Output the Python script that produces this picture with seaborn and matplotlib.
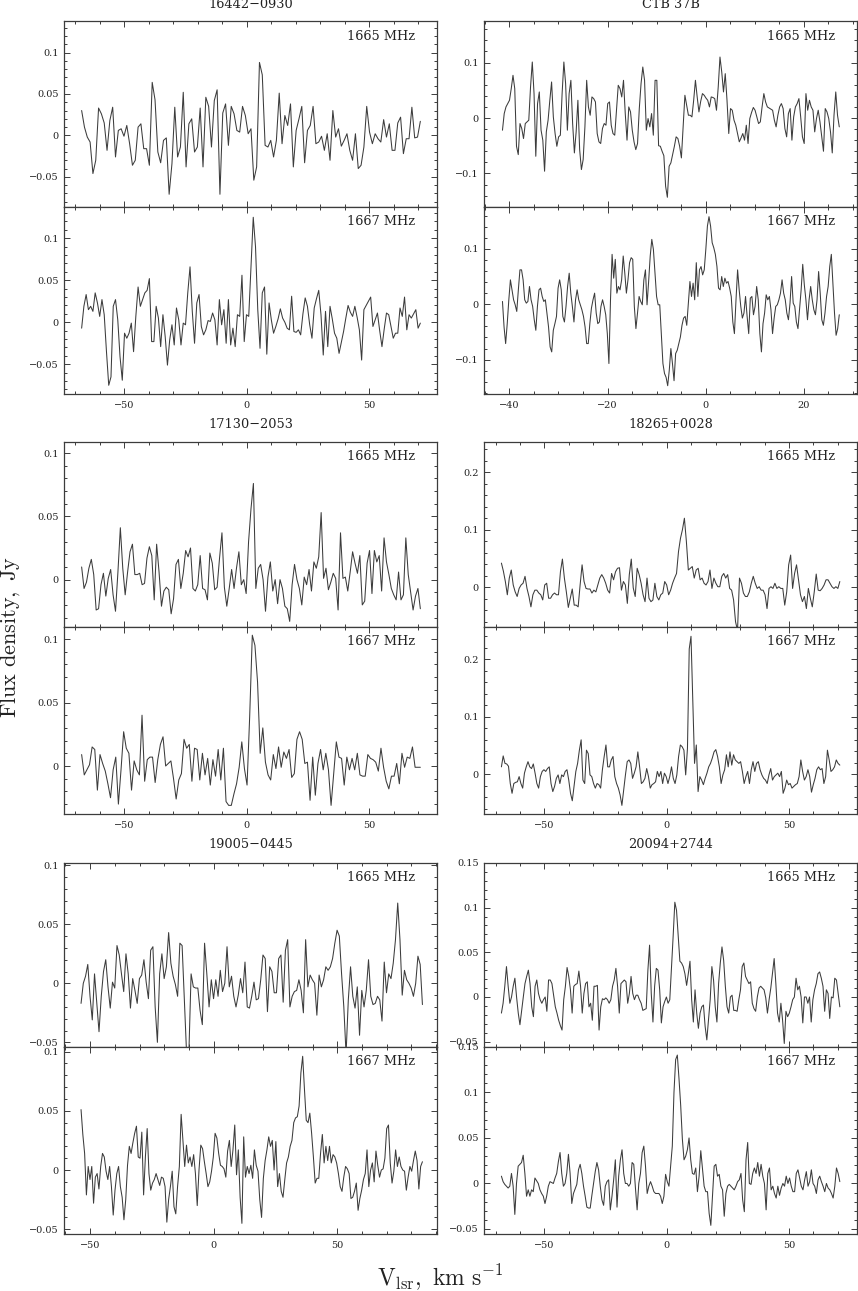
import numpy as np
import matplotlib
matplotlib.use("Agg")
import matplotlib.pyplot as plt
import seaborn as sns
from matplotlib.ticker import MultipleLocator, FuncFormatter

sns.set_style("ticks")
plt.rcParams["font.family"] = ["DejaVu Serif"]
plt.rcParams["mathtext.fontset"] = "cm"

# source names (titles) and frequency labels
sources = ["16442\u22120930", "CTB 37B", "17130\u22122053",
           "18265+0028", "19005\u22120445", "20094+2744"]
freqs = ["1665 MHz", "1667 MHz"]

# velocity range covered by each spectrum (first and last channel, km/s)
vrange_16442 = (-67.4, 70.9)
vrange_ctb37b = (-41.4, 27.2)
vrange_17130 = (-67.4, 70.9)
vrange_18265 = (-67.6, 70.8)
vrange_19005 = (-53.7, 84.5)
vrange_20094 = (-67.6, 70.8)

# flux density, Jy
f1665_16442 = [0.030, 0.010, -0.002, -0.008, -0.046, -0.030, 0.033, 0.026, 0.015, -0.018,
               0.018, 0.034, -0.026, 0.006, 0.008, -0.001, 0.012, -0.010, -0.036, -0.030,
               0.010, 0.014, -0.016, -0.016, -0.036, 0.064, 0.043, -0.020, -0.033, -0.006,
               -0.003, -0.071, -0.034, 0.034, -0.026, -0.014, 0.052, -0.038, 0.014, 0.020,
               -0.020, -0.014, 0.033, -0.038, 0.046, 0.035, -0.014, 0.042, 0.055, -0.071,
               0.027, 0.038, -0.012, 0.035, 0.026, 0.006, 0.004, 0.035, 0.024, 0.002,
               0.008, -0.054, -0.038, 0.088, 0.073, -0.012, -0.014, -0.006, -0.026, -0.006,
               0.051, -0.010, 0.024, 0.012, 0.038, -0.038, 0.006, 0.020, 0.035, -0.033,
               0.006, 0.012, 0.035, -0.010, -0.008, -0.001, -0.018, 0.002, -0.030, 0.030,
               -0.002, 0.008, -0.013, -0.006, 0.002, -0.018, -0.030, 0.002, -0.040, -0.036,
               -0.014, 0.035, 0.004, -0.010, 0.002, -0.004, -0.008, 0.019, -0.002, 0.014,
               -0.018, -0.018, 0.015, 0.022, -0.022, -0.004, -0.004, 0.034, -0.003, -0.002,
               0.017]
f1667_16442 = [-0.007, 0.019, 0.033, 0.015, 0.019, 0.013, 0.035, 0.023, 0.007, 0.027,
               0.009, -0.035, -0.075, -0.065, 0.019, 0.027, 0.003, -0.041, -0.069, -0.013,
               -0.019, -0.013, -0.001, -0.035, 0.007, 0.042, 0.019, 0.027, 0.035, 0.038,
               0.052, -0.023, -0.023, 0.019, 0.005, -0.029, 0.009, -0.017, -0.051, -0.021,
               -0.003, -0.027, 0.017, 0.003, -0.027, -0.001, -0.003, 0.035, 0.066, 0.013,
               -0.025, 0.023, 0.033, -0.005, -0.015, -0.009, 0.002, 0.001, 0.011, 0.003,
               -0.027, 0.027, -0.003, 0.015, -0.025, 0.027, -0.027, -0.007, -0.029, 0.009,
               0.007, 0.056, -0.023, 0.009, 0.007, 0.066, 0.125, 0.090, 0.015, -0.031,
               0.035, 0.042, -0.038, 0.023, 0.003, -0.013, -0.005, 0.004, 0.016, 0.005,
               0.000, -0.007, -0.009, 0.031, -0.011, -0.012, -0.009, -0.015, 0.010, 0.029,
               0.019, -0.003, -0.019, 0.017, 0.028, 0.038, 0.009, -0.039, 0.013, -0.029,
               0.019, 0.004, -0.013, -0.019, -0.037, -0.024, -0.011, 0.005, 0.020, 0.012,
               0.007, 0.019, 0.006, -0.009, -0.045, 0.015, 0.020, 0.025, 0.030, -0.005,
               0.003, 0.011, -0.010, -0.029, -0.008, 0.011, 0.009, -0.005, -0.019, -0.013,
               -0.013, 0.017, 0.007, 0.030, -0.009, 0.009, 0.005, 0.010, 0.015, -0.007,
               -0.001]

f1665_ctb37b = [-0.022, 0.008, 0.020, 0.026, 0.032, 0.053, 0.077, 0.053, -0.051, -0.066,
                -0.010, -0.019, -0.037, -0.010, -0.007, -0.004, 0.056, 0.101, 0.044,
                -0.069, 0.026, 0.047, -0.022, -0.040, -0.096, -0.025, -0.004, 0.032, 0.065,
                0.002, -0.028, -0.051, -0.034, -0.031, 0.044, 0.101, 0.062, -0.022,
                0.044, 0.068, -0.010, -0.063, -0.025, 0.032, -0.057, -0.093, -0.075, -0.016,
                0.068, 0.020, 0.005, 0.038, 0.035, 0.029, -0.028, -0.043, -0.046, -0.019,
                -0.010, -0.013, 0.026, 0.029, -0.013, -0.028, -0.031, 0.014, 0.059, 0.053,
                0.038, 0.068, 0.008, -0.040, 0.020, 0.011, -0.022, -0.043, -0.057, -0.046,
                0.017, 0.062, 0.092, 0.068, -0.022, -0.001, -0.016, 0.008, -0.031, 0.068,
                0.068, -0.050, -0.051, -0.060, -0.068, -0.123, -0.143, -0.087, -0.081, -0.066,
                -0.051, -0.034, -0.037, -0.051, -0.072, -0.016, 0.041, 0.023, 0.005, 0.005,
                0.002, 0.032, 0.068, 0.038, 0.011, 0.030, 0.044, 0.041, 0.036, 0.032,
                0.020, 0.038, 0.037, 0.035, 0.014, 0.056, 0.110, 0.083, 0.047, 0.080,
                0.032, -0.028, 0.017, 0.014, -0.004, -0.013, -0.028, -0.043, -0.036, -0.028,
                -0.040, -0.013, -0.046, -0.001, 0.010, 0.019, 0.014, 0.002, -0.010, -0.007,
                0.020, 0.044, 0.029, 0.020, 0.018, 0.016, 0.014, -0.004, -0.016, 0.005,
                0.020, 0.026, 0.017, -0.019, -0.034, 0.008, 0.017, -0.040, 0.002, 0.020,
                0.026, 0.035, 0.002, -0.034, -0.046, 0.044, 0.014, 0.032, 0.020, 0.014,
                -0.025, -0.001, 0.014, -0.007, -0.034, -0.060, 0.017, 0.011, -0.001, -0.025,
                -0.063, 0.005, 0.047, 0.005, -0.016]
f1667_ctb37b = [0.005, -0.041, -0.071, -0.035, 0.008, 0.044, 0.026, 0.008, -0.001, -0.013,
                0.026, 0.062, 0.062, 0.044, 0.008, 0.002, 0.005, 0.032, 0.008, -0.004,
                -0.028, -0.047, -0.004, 0.026, 0.029, 0.014, 0.005, 0.008, -0.016, -0.041,
                -0.077, -0.086, -0.047, -0.035, -0.022, 0.029, 0.044, 0.026, -0.022, -0.032,
                -0.004, 0.032, 0.056, 0.020, -0.004, -0.032, 0.008, 0.026, 0.008, -0.001,
                -0.010, -0.022, -0.041, -0.071, -0.071, -0.035, -0.007, 0.008, 0.020, -0.016,
                -0.035, -0.032, -0.004, 0.008, -0.004, -0.019, -0.053, -0.107, 0.008, 0.090,
                0.047, 0.081, 0.020, 0.032, 0.026, 0.044, 0.087, 0.056, 0.020, 0.044,
                0.075, 0.084, 0.081, -0.004, -0.044, -0.016, 0.014, 0.005, -0.001, 0.044,
                0.062, -0.001, 0.041, 0.087, 0.117, 0.099, 0.056, 0.014, -0.001, -0.001,
                -0.053, -0.107, -0.125, -0.132, -0.147, -0.119, -0.080, -0.107, -0.138, -0.089,
                -0.083, -0.071, -0.059, -0.038, -0.025, -0.022, -0.038, 0.002, 0.041, 0.014,
                0.038, 0.008, 0.075, 0.014, 0.062, 0.068, 0.053, 0.062, 0.099, 0.141,
                0.158, 0.141, 0.111, 0.102, 0.090, 0.068, 0.029, 0.026, 0.050, 0.032,
                0.047, 0.038, 0.041, 0.029, 0.014, -0.032, -0.053, 0.008, 0.062, 0.026,
                -0.004, -0.025, -0.016, 0.014, -0.022, -0.053, 0.011, 0.014, -0.019, -0.004,
                0.032, 0.008, -0.053, -0.086, -0.035, -0.016, 0.017, 0.008, 0.014, -0.010,
                -0.053, -0.025, -0.004, -0.001, 0.008, 0.020, 0.044, 0.020, 0.008, -0.016,
                -0.028, 0.002, 0.050, 0.002, -0.004, -0.032, -0.044, -0.010, 0.026, 0.072,
                0.035, 0.008, -0.028, 0.008, 0.032, 0.008, -0.010, -0.019, 0.008, 0.059,
                0.020, -0.028, -0.038, -0.016, 0.014, 0.032, 0.068, 0.090, 0.038, -0.016,
                -0.056, -0.044, -0.019]

f1665_17130 = [0.010, -0.007, -0.002, 0.009, 0.016, 0.004, -0.024, -0.023, -0.004, 0.005,
               -0.013, 0.001, 0.008, -0.012, -0.025, 0.006, 0.041, 0.009, -0.012, 0.006,
               0.022, 0.028, 0.004, 0.004, 0.005, -0.004, -0.003, 0.017, 0.026, 0.019,
               -0.016, 0.028, 0.006, -0.021, -0.009, -0.006, -0.008, -0.027, -0.015, 0.012,
               0.016, -0.007, 0.005, 0.023, 0.018, 0.025, -0.007, -0.009, -0.004, 0.019,
               -0.007, -0.008, -0.016, 0.021, 0.013, -0.008, -0.006, 0.017, 0.037, -0.006,
               -0.021, -0.007, 0.008, -0.007, 0.009, 0.022, -0.004, 0.000, -0.011, 0.030,
               0.056, 0.076, -0.007, 0.009, 0.012, 0.000, -0.025, 0.002, 0.014, -0.009,
               0.000, -0.019, 0.000, -0.007, -0.021, -0.023, -0.033, -0.004, 0.012, 0.000,
               -0.007, -0.020, 0.002, -0.004, 0.008, -0.009, 0.014, 0.009, 0.018, 0.053,
               0.001, 0.009, -0.008, -0.002, 0.005, 0.001, -0.024, 0.037, 0.001, 0.002,
               -0.009, 0.006, 0.022, 0.013, 0.005, 0.019, -0.020, -0.017, 0.013, 0.023,
               -0.011, 0.023, 0.014, 0.019, -0.009, 0.033, 0.014, 0.004, -0.007, -0.012,
               -0.016, 0.006, -0.016, -0.012, 0.033, 0.004, -0.010, -0.024, -0.013, -0.007,
               -0.023]
f1667_17130 = [0.009, -0.007, -0.003, 0.001, 0.015, 0.013, -0.019, 0.009, 0.002, -0.004,
               -0.014, -0.025, -0.003, 0.007, -0.030, -0.003, 0.027, 0.014, 0.010, -0.019,
               0.004, -0.003, -0.007, 0.040, -0.012, 0.005, 0.007, 0.007, -0.013, 0.005,
               0.017, 0.023, 0.000, 0.002, 0.004, -0.010, -0.026, -0.011, -0.006, 0.021,
               0.014, 0.017, -0.012, 0.014, 0.013, -0.011, 0.010, -0.007, 0.006, -0.015,
               0.005, -0.008, 0.013, -0.011, 0.014, -0.028, -0.031, -0.031, -0.022, -0.014,
               -0.001, 0.019, -0.002, -0.015, 0.039, 0.103, 0.095, 0.066, 0.010, 0.030,
               0.003, -0.007, -0.011, 0.009, -0.002, 0.015, -0.001, 0.011, 0.006, 0.013,
               -0.009, -0.006, 0.021, 0.027, 0.021, 0.002, 0.003, -0.027, 0.007, -0.023,
               0.002, 0.013, -0.003, 0.010, -0.003, -0.031, -0.006, 0.019, 0.007, 0.006,
               -0.015, 0.007, -0.003, 0.006, -0.003, 0.010, -0.007, -0.008, -0.008, 0.009,
               0.006, 0.005, 0.003, -0.004, 0.014, -0.001, -0.012, -0.018, -0.008, -0.008,
               0.002, -0.014, 0.010, -0.001, 0.007, 0.006, 0.015, -0.001, -0.001, -0.001]

f1665_18265 = [0.042, 0.028, 0.010, -0.013, 0.016, 0.030, 0.004, -0.008, -0.016, -0.002,
               0.004, 0.007, 0.019, -0.002, -0.016, -0.034, -0.013, -0.005, -0.005, -0.010,
               -0.013, -0.022, 0.004, 0.007, -0.019, -0.019, -0.013, -0.010, -0.013, -0.013,
               0.027, 0.049, 0.016, -0.008, -0.035, -0.019, -0.003, -0.031, -0.031, -0.034,
               0.004, 0.039, 0.010, -0.002, -0.003, -0.003, -0.010, -0.005, -0.008, 0.004,
               0.016, 0.022, 0.016, 0.007, -0.005, -0.010, 0.024, 0.013, 0.027, 0.033,
               0.034, -0.005, 0.010, 0.004, -0.028, 0.022, 0.049, -0.001, -0.016, 0.033,
               0.022, 0.007, -0.013, -0.025, 0.016, -0.019, -0.025, -0.022, 0.007, -0.016,
               -0.022, -0.013, -0.010, 0.010, 0.004, -0.013, -0.005, 0.007, 0.016, 0.024,
               0.062, 0.085, 0.100, 0.120, 0.080, 0.030, 0.033, 0.036, 0.016, 0.030,
               0.033, 0.013, 0.016, 0.007, 0.004, 0.010, 0.030, -0.002, 0.016, 0.007,
               0.001, 0.001, 0.019, 0.024, 0.016, 0.022, -0.002, -0.005, -0.022, -0.060,
               -0.075, 0.016, 0.007, -0.010, -0.016, -0.016, -0.008, 0.007, 0.019, 0.007,
               -0.002, 0.001, -0.005, -0.005, -0.013, -0.037, -0.002, 0.001, -0.002, 0.007,
               -0.002, 0.001, -0.002, -0.002, -0.031, -0.008, 0.039, 0.056, -0.002, 0.024,
               0.039, 0.013, -0.013, -0.025, -0.016, -0.037, -0.002, -0.019, -0.034, -0.008,
               0.023, -0.005, -0.006, -0.002, 0.004, 0.013, 0.013, 0.007, 0.001, -0.002,
               0.001, -0.002, 0.010]
f1667_18265 = [0.013, 0.032, 0.019, 0.018, 0.014, -0.016, -0.033, -0.016, -0.014, -0.013,
               -0.004, -0.016, -0.024, 0.002, 0.013, 0.022, 0.013, 0.010, 0.018, 0.002,
               -0.016, -0.024, -0.004, 0.005, 0.008, 0.005, 0.010, 0.013,
               -0.016, -0.030, -0.021, -0.007, -0.001, -0.016, -0.001, -0.004, 0.005, 0.008,
               -0.010, -0.033, -0.046, -0.021, 0.005, 0.019, 0.042, 0.060, -0.010, -0.016,
               0.042, 0.036, -0.001, -0.004, -0.016, -0.024, -0.016, -0.018, -0.024,
               0.008, 0.031, 0.051, 0.013, 0.013, 0.025, 0.031, -0.004, -0.016, -0.024,
               -0.036, -0.054, -0.027, -0.001, 0.022, 0.025, 0.019, -0.007, 0.002,
               0.013, 0.039, 0.013, -0.016, -0.013, -0.007, 0.010, -0.004, -0.024, -0.018,
               -0.016, -0.013, 0.005, -0.004, 0.005, -0.016, 0.002, -0.004, -0.016, -0.004,
               0.013, -0.007, -0.016, -0.001, 0.031, 0.051, 0.048, 0.042, -0.001, 0.045,
               0.218, 0.240, 0.132, 0.019, 0.051, -0.030, -0.004, -0.010, -0.018, -0.007,
               0.002, 0.013, 0.019, 0.028, 0.039, 0.043, 0.031, 0.013, -0.016, -0.001,
               0.008, 0.034, 0.013, 0.039, 0.016, 0.034, 0.025, 0.022, 0.019, 0.022,
               0.005, -0.016, -0.004, 0.005, -0.016, 0.008, 0.022, 0.005, 0.019, 0.022,
               0.008, -0.001, -0.007, -0.010, -0.016, -0.001, 0.010, -0.010, -0.004, -0.001,
               0.002, -0.004, 0.005, -0.033, -0.024, -0.010, -0.018, -0.016, -0.024, -0.021,
               -0.018, -0.016, -0.004, 0.025, 0.005, -0.010, -0.004, 0.008, -0.004, -0.031,
               -0.018, -0.007, 0.008, 0.013, 0.008, 0.010, -0.016, -0.004, 0.042, 0.025,
               0.005, 0.008, 0.013, 0.025, 0.019, 0.016]

f1665_19005 = [-0.017, 0.000, 0.006, 0.016, -0.011, -0.031, 0.008, -0.017, -0.041, -0.011,
               0.010, 0.020, -0.003, -0.021, 0.001, -0.004, 0.032, 0.024, 0.008, -0.007,
               0.025, 0.008, -0.021, 0.004, -0.006, -0.017, 0.004, 0.007, 0.020, 0.001,
               -0.013, 0.028, 0.031, -0.020, -0.050, 0.008, 0.025, 0.004, 0.014, 0.043,
               0.017, 0.006, -0.001, -0.011, 0.034, 0.032, -0.014, -0.060, -0.060, 0.008,
               -0.003, -0.004, -0.004, -0.023, -0.035, 0.034, 0.008, -0.020, 0.003, -0.013,
               0.003, -0.011, 0.011, -0.007, 0.000, 0.031, -0.003, 0.006, -0.011, -0.020,
               -0.010, 0.004, -0.008, 0.018, -0.020, -0.021, -0.011, 0.001, -0.014, -0.013,
               0.003, 0.024, 0.021, -0.024, 0.014, 0.010, -0.008, -0.008, 0.021, 0.024,
               -0.016, 0.028, 0.037, -0.020, -0.011, -0.007, -0.006, 0.003, -0.006, -0.025,
               0.037, -0.003, 0.007, 0.003, 0.000, -0.027, 0.007, -0.003, 0.003, 0.014,
               0.011, 0.014, 0.021, 0.034, 0.045, 0.040, 0.008, -0.020, -0.060, -0.014,
               0.014, -0.011, -0.021, -0.003, -0.044, -0.006, -0.020, -0.006, 0.020, -0.011,
               -0.018, -0.017, -0.011, -0.014, -0.032, 0.018, -0.008, 0.008, 0.004, 0.017,
               0.037, 0.068, 0.037, -0.010, 0.011, 0.003, 0.000, -0.004, -0.011, 0.000,
               0.023, 0.016, -0.018]
f1667_19005 = [0.051, 0.030, 0.014, -0.021, 0.003, -0.008, 0.003, -0.028, -0.006, -0.003,
               -0.016, 0.003, 0.014, 0.011, -0.001, -0.008, 0.003, -0.014, -0.038, -0.017,
               -0.003, 0.003, -0.014, -0.023, -0.042, -0.025, 0.004, 0.020, 0.014, 0.023,
               0.031, 0.037, 0.011, 0.010, 0.032, -0.021, 0.011, 0.035, -0.003, -0.017,
               -0.011, -0.008, -0.003, -0.008, -0.013, -0.006, -0.007, -0.014, -0.044, -0.025,
               -0.014, -0.001, -0.031, -0.037, -0.014, 0.003, 0.047, 0.025, 0.003, 0.021,
               0.006, 0.011, 0.003, 0.013, -0.003, -0.030, 0.000, 0.021, 0.018, 0.007,
               -0.003, -0.014, -0.010, -0.001, 0.011, 0.031, 0.027, 0.014, 0.004, 0.003,
               0.001, -0.006, 0.016, 0.025, 0.003, 0.017, 0.038, -0.004, 0.017, -0.023,
               -0.045, 0.028, -0.006, 0.003, -0.003, 0.004, -0.007, 0.017, 0.004, -0.001,
               -0.025, -0.040, -0.007, 0.008, 0.017, 0.028, 0.020, 0.025, 0.000, 0.024,
               -0.014, -0.003, -0.018, -0.023, -0.008, 0.006, 0.011, 0.020, 0.025, 0.040,
               0.044, 0.045, 0.054, 0.082, 0.096, 0.068, 0.042, 0.040, 0.048, 0.031,
               0.011, -0.011, -0.007, -0.007, 0.014, 0.030, 0.006, 0.020, 0.008, 0.020,
               0.006, 0.013, 0.011, 0.006, -0.003, -0.014, -0.018, -0.006, 0.003, 0.001,
               -0.003, -0.024, -0.023, -0.018, -0.011, -0.034, -0.024, -0.017, -0.008, -0.003,
               0.017, -0.014, 0.000, 0.006, -0.010, 0.016, 0.004, -0.006, 0.000, 0.001,
               0.010, 0.035, 0.038, 0.006, -0.011, -0.001, 0.017, 0.003, 0.011, 0.003,
               0.000, -0.001, -0.017, -0.006, 0.003, -0.001, 0.008, 0.016, 0.008, -0.016,
               0.003, 0.007]

f1665_20094 = [-0.018, -0.007, 0.012, 0.034, 0.012, -0.007, 0.000, 0.012, 0.021, 0.000,
               -0.018, -0.031, -0.015, 0.000, 0.015, 0.023, 0.030, 0.015, -0.011, -0.022,
               0.012, 0.019, 0.004, -0.003, -0.007, -0.003, 0.000, -0.016, 0.019, 0.019,
               0.015, 0.002, -0.011, -0.018, -0.026, -0.032, -0.037, -0.003, 0.012, 0.033,
               0.023, 0.008, -0.018, 0.012, 0.014, 0.015, 0.029, 0.012, -0.018, 0.004,
               0.015, 0.017, -0.011, -0.007, -0.026, 0.012, 0.012, 0.013, -0.037, -0.011,
               -0.002, -0.003, -0.001, -0.003, -0.007, -0.003, 0.012, 0.019, 0.032, 0.012,
               -0.018, 0.015, 0.017, 0.019, 0.017, -0.007, 0.004, 0.023, 0.004, -0.003,
               0.002, 0.002, -0.003, -0.007, -0.015, -0.014, -0.013, 0.030, 0.058, 0.004,
               -0.028, 0.012, 0.032, 0.030, 0.008, -0.029, -0.011, -0.005, 0.000, -0.007,
               -0.003, 0.032, 0.068, 0.106, 0.097, 0.068, 0.040, 0.038, 0.034, 0.026,
               0.013, 0.026, 0.040, -0.003, -0.028, 0.008, -0.018, -0.035, -0.018, -0.011,
               -0.009, -0.033, -0.048, -0.026, -0.003, 0.034, 0.019, -0.011, -0.028, 0.015,
               0.038, 0.056, 0.041, 0.012, -0.011, -0.018, 0.000, 0.002, -0.015, -0.015,
               -0.016, -0.003, 0.008, 0.034, 0.038, 0.023, 0.019, 0.015, 0.017, -0.007,
               -0.013, -0.016, 0.000, 0.010, 0.012, 0.010, 0.008, -0.001, -0.018, -0.003,
               0.010, 0.026, 0.043, 0.015, -0.018, -0.028, -0.007, -0.026, -0.052, -0.016,
               -0.022, -0.018, -0.011, -0.003, 0.000, 0.021, 0.008, 0.012, 0.000, -0.029,
               0.000, 0.000, -0.007, 0.000, -0.028, -0.003, 0.008, 0.015, 0.026, 0.028,
               0.021, 0.012, -0.016, 0.008, 0.004, -0.024, 0.000, -0.001, 0.021, 0.019,
               0.004, -0.011]
f1667_20094 = [0.008, 0.002, -0.001, -0.003, -0.005, -0.003, 0.011, -0.003, -0.034, 0.000,
               0.019, 0.021, 0.023, 0.031, 0.011, -0.014, -0.007, -0.014, -0.007, -0.009,
               0.006, 0.003, 0.000, -0.007, -0.011, -0.014, -0.022, -0.014, -0.003, 0.002,
               0.001, 0.000, 0.006, 0.011, 0.024, 0.034, 0.011, -0.003, 0.000, 0.011,
               0.032, 0.011, -0.022, -0.011, -0.006, -0.001, 0.015, 0.021, 0.011, -0.003,
               -0.014, -0.026, -0.027, -0.027, -0.013, 0.000, 0.013, 0.023, 0.015, -0.003,
               -0.018, -0.024, -0.003, 0.002, 0.004, -0.029, -0.014, 0.004, 0.026, -0.026,
               0.008, 0.026, 0.037, 0.011, 0.000, 0.000, -0.003, 0.000, 0.023, 0.021,
               -0.005, -0.029, 0.000, 0.011, 0.034, 0.041, 0.019, -0.011, -0.003, 0.002,
               -0.003, -0.009, -0.011, -0.011, -0.011, -0.014, -0.022, -0.014, 0.010, 0.002,
               -0.003, 0.019, 0.041, 0.100, 0.136, 0.141, 0.115, 0.086, 0.049, 0.026,
               0.030, 0.037, 0.050, 0.026, 0.011, 0.010, 0.017, -0.009, 0.008, 0.036,
               0.017, -0.003, -0.009, -0.009, -0.033, -0.046, -0.014, 0.019, 0.021, 0.008,
               0.010, -0.003, -0.007, -0.036, -0.011, -0.003, -0.001, -0.003, -0.005, -0.007,
               -0.003, 0.002, 0.004, 0.011, -0.018, -0.031, 0.026, 0.045, 0.000, -0.001,
               0.011, 0.017, 0.011, 0.023, 0.008, 0.021, 0.008, 0.000, -0.029, 0.011,
               0.017, -0.007, -0.003, -0.011, -0.016, -0.003, -0.013, -0.005, 0.000, -0.003,
               0.008, 0.000, 0.006, -0.003, -0.009, -0.009, 0.011, 0.015, 0.006, -0.003,
               -0.007, 0.004, 0.013, -0.003, 0.002, 0.015, 0.000, -0.003, -0.011, 0.004,
               0.008, 0.002, -0.003, -0.009, 0.000, -0.005, -0.007, -0.011, -0.016, -0.003,
               0.017, 0.011, 0.002]

# axis settings per source: xlim, x major/minor, (ylim 1665, ylim 1667), y major/minor
panels = [
    (vrange_16442, f1665_16442, f1667_16442, (-74.6, 77.7), 50, 10,
     (-0.086, 0.138), (-0.0854, 0.1376), 0.05, 0.01),
    (vrange_ctb37b, f1665_ctb37b, f1667_ctb37b, (-45.1, 30.75), 20, 5,
     (-0.16, 0.175), (-0.162, 0.176), 0.1, 0.02),
    (vrange_17130, f1665_17130, f1667_17130, (-74.6, 77.7), 50, 10,
     (-0.0372, 0.109), (-0.0378, 0.1097), 0.05, 0.01),
    (vrange_18265, f1665_18265, f1667_18265, (-74.6, 77.7), 50, 10,
     (-0.0685, 0.253), (-0.069, 0.2567), 0.1, 0.02),
    (vrange_19005, f1665_19005, f1667_19005, (-60.6, 90.4), 50, 10,
     (-0.0537, 0.1022), (-0.054, 0.1041), 0.05, 0.01),
    (vrange_20094, f1665_20094, f1667_20094, (-74.6, 77.7), 50, 10,
     (-0.0556, 0.1502), (-0.0555, 0.1502), 0.05, 0.01),
]

W, H = 858, 1291
col_x = [(64, 437), (484.3, 856.7)]
row_y = [(21, 206.7, 394), (441.7, 626.7, 814), (862.7, 1046.7, 1234)]
title_y = [5, 425, 845]
ink = "#3c3c3c"


def tick_fmt(v, pos):
    s = "%g" % round(v, 3)
    if s == "-0":
        s = "0"
    return s.replace("-", "\u2212")


fig = plt.figure(figsize=(W / 100, H / 100), dpi=100)

for i, (vr, fa, fb, xl, xmaj, xmin, yla, ylb, ymaj, ymin) in enumerate(panels):
    row, col = divmod(i, 2)
    x0, x1 = col_x[col]
    top, mid, bot = row_y[row]
    boxes = [(top, mid), (mid, bot)]
    for k, flux in enumerate([fa, fb]):
        yt, yb = boxes[k]
        ax = fig.add_axes([x0 / W, 1 - yb / H, (x1 - x0) / W, (yb - yt) / H])
        v = np.linspace(vr[0], vr[1], len(flux))
        sns.lineplot(x=v, y=flux, ax=ax, color=ink, linewidth=0.75,
                     estimator=None, sort=False)
        ax.set_xlim(*xl)
        ax.set_ylim(*(yla if k == 0 else ylb))
        ax.xaxis.set_major_locator(MultipleLocator(xmaj))
        ax.xaxis.set_minor_locator(MultipleLocator(xmin))
        ax.yaxis.set_major_locator(MultipleLocator(ymaj))
        ax.yaxis.set_minor_locator(MultipleLocator(ymin))
        ax.xaxis.set_major_formatter(FuncFormatter(tick_fmt))
        ax.yaxis.set_major_formatter(FuncFormatter(tick_fmt))
        ax.tick_params(which="both", direction="in", top=True, right=True,
                       color=ink, width=0.7, labelsize=7, labelcolor="#222222")
        ax.tick_params(which="major", length=4.5)
        ax.tick_params(which="minor", length=2.2)
        ax.tick_params(axis="y", pad=4)
        ax.tick_params(axis="x", pad=5, labelbottom=(k == 1))
        for s in ax.spines.values():
            s.set_color(ink)
            s.set_linewidth(0.9)
        ax.set_xlabel("")
        ax.set_ylabel("")
        ax.text(1 - 22 / (x1 - x0), 1 - 15 / (yb - yt), freqs[k],
                transform=ax.transAxes, ha="right", va="center",
                fontsize=9.3, color="#222222")
    fig.text((x0 + x1) / 2 / W, 1 - title_y[row] / H, sources[i],
             ha="center", va="center", fontsize=9.3, color="#222222")

fig.text(10 / W, 1 - 637 / H, r"$\mathrm{Flux\ density,\ Jy}$", rotation=90,
         ha="center", va="center", fontsize=16, color="#222222")
fig.text(440 / W, 1 - 1285 / H, r"$\mathrm{V_{lsr},\ km\ s^{-1}}$",
         ha="center", va="baseline", fontsize=17, color="#222222")

fig.savefig("out.png", dpi=100)
